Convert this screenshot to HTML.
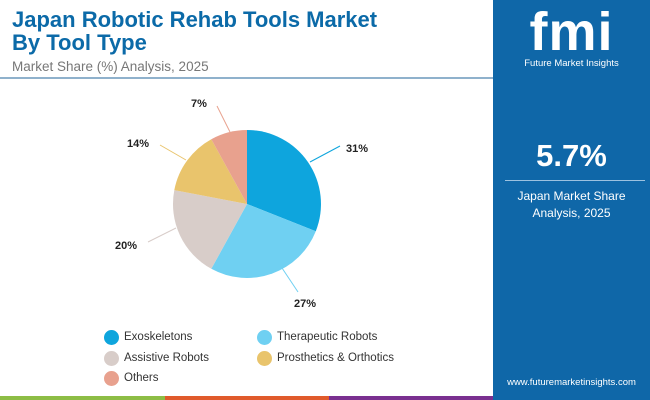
<!DOCTYPE html>
<html><head><meta charset="utf-8"><style>
body{margin:0;width:650px;height:400px;overflow:hidden;background:#fff;font-family:"Liberation Sans",sans-serif;position:relative}
.t{position:absolute;left:12px;top:8px;color:#0b6aa8;font-weight:bold;font-size:22px;line-height:23px}
.s{position:absolute;left:12px;top:59px;color:#777;font-size:13.5px}
.ln{position:absolute;left:0;top:77px;width:493px;height:2px;background:#8fb1cc}
.p{position:absolute;left:493px;top:0;width:157px;height:400px;background:#0f67a8;color:#fff;text-align:center}
.lg{position:absolute;font-size:11.5px;color:#333}
.d{position:absolute;width:15px;height:15px;border-radius:50%}
</style></head><body>
<div class="t">Japan Robotic Rehab Tools Market<br>By Tool Type</div>
<div class="s">Market Share (%) Analysis, 2025</div>
<div class="ln"></div>
<svg width="493" height="400" style="position:absolute;left:0;top:0">
<path d="M247,204 L247,130 A74,74 0 0 1 315.8,231.2Z" fill="#0ea5dd"/>
<path d="M247,204 L315.8,231.2 A74,74 0 0 1 211.3,268.8Z" fill="#6fd0f2"/>
<path d="M247,204 L211.3,268.8 A74,74 0 0 1 174.3,190.1Z" fill="#d8cdc9"/>
<path d="M247,204 L174.3,190.1 A74,74 0 0 1 211.3,139.2Z" fill="#e9c46c"/>
<path d="M247,204 L211.3,139.2 A74,74 0 0 1 247,130Z" fill="#e8a18e"/>
<g stroke-width="1" fill="none">
<line x1="310" y1="162" x2="340" y2="146" stroke="#0ea5dd"/>
<line x1="282" y1="268" x2="298" y2="292" stroke="#6fd0f2"/>
<line x1="176" y1="228" x2="148" y2="242" stroke="#d8cdc9"/>
<line x1="186" y1="160" x2="160" y2="145" stroke="#e9c46c"/>
<line x1="230" y1="132" x2="217" y2="106" stroke="#e8a18e"/>
</g>
<g font-size="11" font-weight="bold" fill="#222">
<text x="346" y="152">31%</text>
<text x="294" y="307">27%</text>
<text x="115" y="249">20%</text>
<text x="127" y="147">14%</text>
<text x="191" y="107">7%</text>
</g>
<rect x="0" y="396" width="165" height="4" fill="#8dbd45"/>
<rect x="165" y="396" width="164" height="4" fill="#e05a2b"/>
<rect x="329" y="396" width="164" height="4" fill="#7a3090"/>
</svg>
<div class="d" style="left:104px;top:330px;background:#0ea5dd"></div><div class="lg" style="left:124px;top:331px">Exoskeletons</div>
<div class="d" style="left:257px;top:330px;background:#6fd0f2"></div><div class="lg" style="left:277px;top:331px">Therapeutic Robots</div>
<div class="d" style="left:104px;top:351px;background:#d8cdc9"></div><div class="lg" style="left:124px;top:352px">Assistive Robots</div>
<div class="d" style="left:257px;top:351px;background:#e9c46c"></div><div class="lg" style="left:277px;top:352px">Prosthetics &amp; Orthotics</div>
<div class="d" style="left:104px;top:371px;background:#e8a18e"></div><div class="lg" style="left:124px;top:372px">Others</div>
<div class="p">
<div style="position:absolute;left:0;width:157px;top:2px;font-size:54px;font-weight:bold;letter-spacing:1px;line-height:60px">fmi</div>
<div style="position:absolute;left:0;width:157px;top:58px;font-size:9.5px">Future Market Insights</div>
<div style="position:absolute;left:0;width:157px;top:138px;font-size:31px;font-weight:bold">5.7%</div>
<div style="position:absolute;left:12px;width:140px;top:180px;height:1px;background:#9cc2e0"></div>
<div style="position:absolute;left:0;width:157px;top:188px;font-size:12px;line-height:17px">Japan Market Share<br>Analysis, 2025</div>
<div style="position:absolute;left:0;width:157px;top:377px;font-size:9.5px">www.futuremarketinsights.com</div>
</div>
</body></html>
